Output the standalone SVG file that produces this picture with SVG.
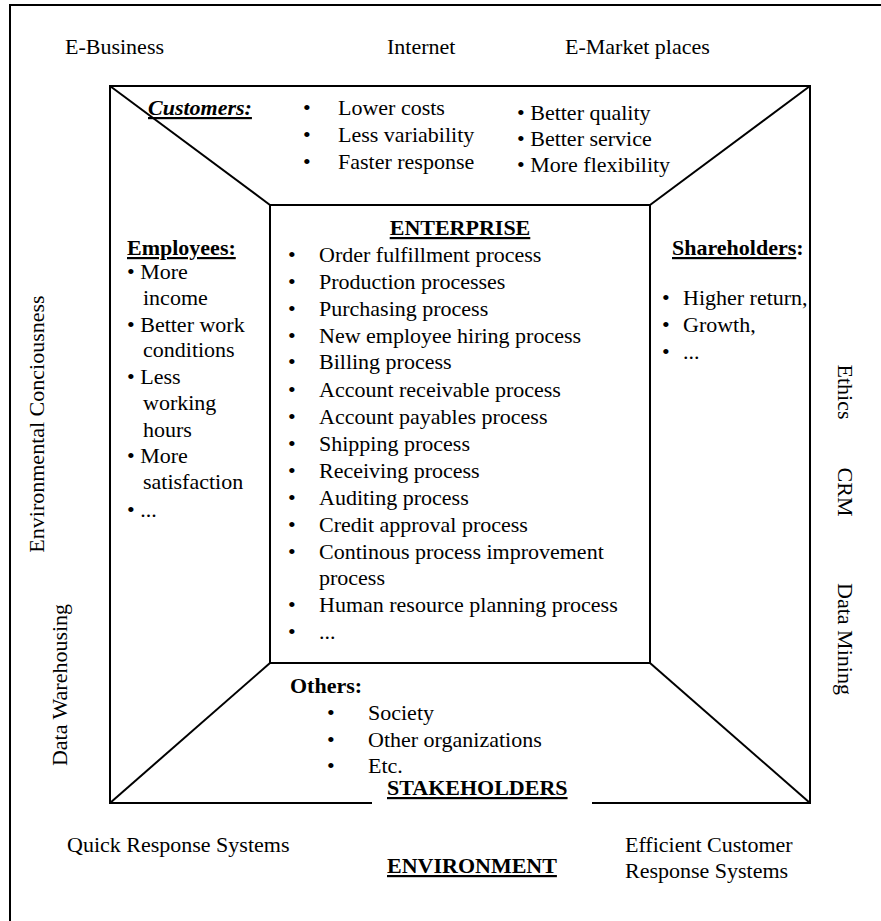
<svg xmlns="http://www.w3.org/2000/svg" width="881" height="921" viewBox="0 0 881 921">
<style>
.t{font-family:"Liberation Serif","Times New Roman",serif;font-size:22px;fill:#000}
.b{font-weight:bold}
.u{text-decoration:underline}
.i{font-style:italic}
.ln{fill:none;stroke:#000;stroke-width:2}
</style>
<rect width="881" height="921" fill="#fff"/>
<g id="frame">
<path class="ln" d="M10,921 V5 H881"/>
</g>
<g id="connectors">
<rect class="ln" x="110" y="86" width="700" height="717"/>
<line class="ln" x1="110" y1="86" x2="270" y2="205"/>
<line class="ln" x1="810" y1="86" x2="650" y2="205"/>
<line class="ln" x1="110" y1="803" x2="270" y2="663"/>
<line class="ln" x1="810" y1="803" x2="650" y2="663"/>
<rect x="372" y="798" width="220" height="10" fill="#fff"/>
</g>
<g id="environment-labels">
<text class="t" x="65" y="54">E-Business</text>
<text class="t" x="387" y="54">Internet</text>
<text class="t" x="565" y="54">E-Market places</text>
<text class="t" text-anchor="middle" transform="translate(44,424) rotate(-90)">Environmental Conciousness</text>
<text class="t" text-anchor="middle" transform="translate(67,685) rotate(-90)">Data Warehousing</text>
<text class="t" text-anchor="middle" transform="translate(838,392) rotate(90)">Ethics</text>
<text class="t" text-anchor="middle" transform="translate(838,492) rotate(90)">CRM</text>
<text class="t" text-anchor="middle" transform="translate(838,639) rotate(90)">Data Mining</text>
<text class="t" x="67" y="852">Quick Response Systems</text>
<text class="t b u" x="387" y="873">ENVIRONMENT</text>
<text class="t" x="625" y="852">Efficient Customer</text>
<text class="t" x="625" y="878">Response Systems</text>
</g>
<g id="customers">
<text class="t b i u" x="148" y="115">Customers:</text>
<text class="t" x="303" y="115">•</text>
<text class="t" x="338" y="115">Lower costs</text>
<text class="t" x="303" y="142">•</text>
<text class="t" x="338" y="142">Less variability</text>
<text class="t" x="303" y="169">•</text>
<text class="t" x="338" y="169">Faster response</text>
<text class="t" x="517" y="120">• Better quality</text>
<text class="t" x="517" y="146">• Better service</text>
<text class="t" x="517" y="172">• More flexibility</text>
</g>
<g id="employees">
<text class="t b u" x="127" y="255">Employees:</text>
<text class="t" x="127" y="279">• More</text>
<text class="t" x="143" y="305">income</text>
<text class="t" x="127" y="332">• Better work</text>
<text class="t" x="143" y="357">conditions</text>
<text class="t" x="127" y="384">• Less</text>
<text class="t" x="143" y="410">working</text>
<text class="t" x="143" y="437">hours</text>
<text class="t" x="127" y="463">• More</text>
<text class="t" x="143" y="489">satisfaction</text>
<text class="t" x="127" y="517">• ...</text>
</g>
<g id="enterprise">
<rect class="ln" x="270" y="205" width="380" height="458"/>
<text class="t b u" x="460" y="235" text-anchor="middle">ENTERPRISE</text>
<g class="t">
<text x="288" y="262">•</text><text x="319" y="262">Order fulfillment process</text>
<text x="288" y="289">•</text><text x="319" y="289">Production processes</text>
<text x="288" y="316">•</text><text x="319" y="316">Purchasing process</text>
<text x="288" y="343">•</text><text x="319" y="343">New employee hiring process</text>
<text x="288" y="369">•</text><text x="319" y="369">Billing process</text>
<text x="288" y="397">•</text><text x="319" y="397">Account receivable process</text>
<text x="288" y="424">•</text><text x="319" y="424">Account payables process</text>
<text x="288" y="451">•</text><text x="319" y="451">Shipping process</text>
<text x="288" y="478">•</text><text x="319" y="478">Receiving process</text>
<text x="288" y="505">•</text><text x="319" y="505">Auditing process</text>
<text x="288" y="532">•</text><text x="319" y="532">Credit approval process</text>
<text x="288" y="559">•</text><text x="319" y="559">Continous process improvement</text>
<text x="319" y="585">process</text>
<text x="288" y="612">•</text><text x="319" y="612">Human resource planning process</text>
<text x="288" y="639">•</text><text x="319" y="639">...</text>
</g>
</g>
<g id="shareholders">
<text class="t b" x="672" y="255"><tspan class="u">Shareholders</tspan>:</text>
<text class="t" x="662" y="305">•</text><text class="t" x="683" y="305">Higher return,</text>
<text class="t" x="662" y="332">•</text><text class="t" x="683" y="332">Growth,</text>
<text class="t" x="662" y="359">•</text><text class="t" x="683" y="359">...</text>
</g>
<g id="others">
<text class="t b" x="290" y="693">Others:</text>
<text class="t" x="327" y="720">•</text><text class="t" x="368" y="720">Society</text>
<text class="t" x="327" y="747">•</text><text class="t" x="368" y="747">Other organizations</text>
<text class="t" x="327" y="773">•</text><text class="t" x="368" y="773">Etc.</text>
<text class="t b u" x="387" y="795">STAKEHOLDERS</text>
</g>
</svg>
